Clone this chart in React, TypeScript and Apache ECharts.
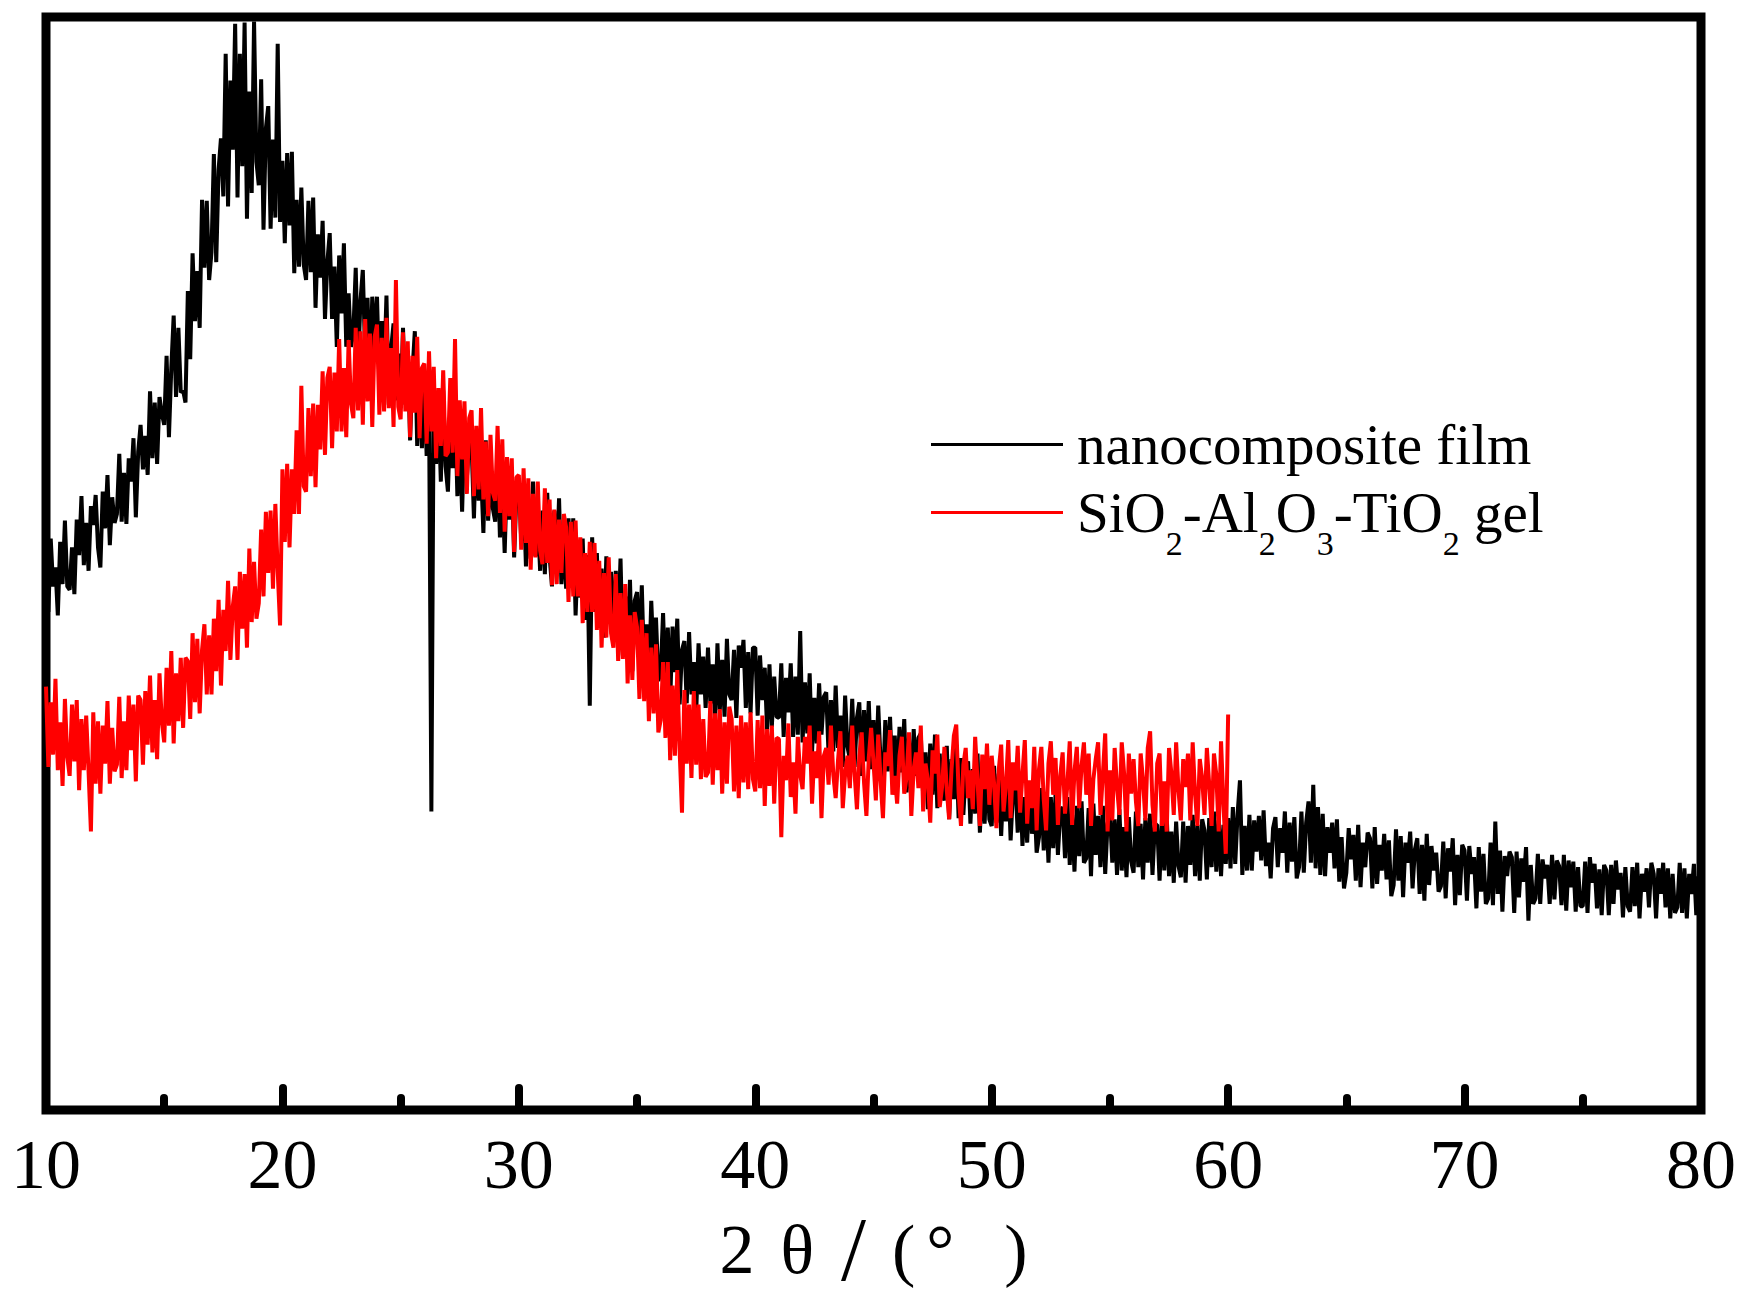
import React, { useEffect, useRef } from "react";
import * as echarts from "echarts";

// 2θ scan: start angle and step (degrees)
const angleStart = 10;
const angleStep = 0.1;

const filmName = "nanocomposite film";
const gelName = "SiO2-Al2O3-TiO2 gel";

// nanocomposite film, 10.0° … 80.0° (arbitrary intensity units)
const filmIntensity = [
  495,447,513,470,487,444,510,472,529,470,
  467,505,463,530,498,551,489,527,484,542,
  525,552,505,487,555,522,570,507,550,527,
  535,589,528,572,526,585,564,603,532,591,
  615,575,605,570,645,585,635,580,640,625,
  615,677,604,666,713,640,702,644,646,635,
  735,674,769,708,753,702,817,756,816,745,
  770,858,761,844,872,820,948,811,924,862,
  975,819,948,847,976,800,914,823,977,851,
  830,925,790,881,901,791,871,801,957,797,
  852,778,859,794,860,751,817,757,828,759,
  745,816,752,819,720,786,747,798,710,761,
  787,710,757,685,767,715,778,685,733,685,
  698,756,668,726,754,677,729,652,730,687,
  730,652,708,660,731,633,684,706,637,679,
  630,702,633,680,601,663,699,596,657,594,
  655,587,639,268,653,580,632,564,646,578,
  555,623,576,633,551,604,537,615,567,600,
  598,531,604,547,575,518,601,529,577,540,
  528,591,514,562,500,573,530,573,496,554,
  567,511,554,488,541,495,564,497,531,484,
  538,481,554,497,470,538,486,549,472,515,
  468,531,474,531,444,502,460,513,440,498,
  363,514,447,500,433,486,424,497,445,483,
  421,484,432,495,408,461,418,476,394,457,
  465,408,471,393,436,384,457,405,442,385,
  393,446,380,433,366,434,393,441,364,413,
  421,365,429,373,402,356,419,373,407,361,
  415,365,400,349,419,359,404,353,423,373,
  368,413,352,417,397,422,361,411,356,415,
  415,354,408,368,397,341,400,344,389,353,
  352,401,335,388,357,401,335,389,337,430,
  330,384,338,392,321,370,329,383,337,371,
  375,319,368,322,381,325,354,308,372,326,
  315,369,308,352,366,300,359,313,367,306,
  350,299,363,312,291,350,304,353,297,336,
  290,344,303,351,285,334,278,342,300,334,
  338,282,321,270,329,283,337,271,320,284,
  278,327,261,315,279,328,262,316,265,304,
  313,257,306,266,320,249,298,257,312,261,
  255,309,258,302,246,295,259,303,242,286,
  295,249,298,237,281,240,294,248,282,231,
  245,289,233,278,222,281,235,284,229,268,
  272,226,281,220,265,214,273,228,277,222,
  226,271,210,275,229,264,218,273,212,257,
  267,222,261,211,270,215,254,209,263,223,
  213,268,218,257,207,262,222,266,211,256,
  256,206,261,215,265,210,250,204,259,219,
  209,259,204,255,220,265,210,256,206,261,
  251,207,262,218,268,214,260,210,256,221,
  262,217,272,221,266,296,211,255,215,265,
  215,260,232,264,224,269,219,240,208,253,
  263,218,253,231,268,213,258,223,263,208,
  218,268,213,258,277,222,292,217,272,211,
  266,210,254,231,258,217,261,205,245,199,
  213,253,225,247,206,256,200,240,218,249,
  244,199,254,203,238,215,248,207,242,192,
  202,252,206,246,191,240,222,250,199,234,
  244,194,238,188,248,202,237,215,231,196,
  201,241,190,235,214,244,184,229,193,238,
  233,188,237,212,227,181,236,196,230,185,
  190,240,184,259,194,233,178,228,210,232,
  227,177,232,191,226,205,236,170,220,185,
  190,230,185,225,208,220,185,229,189,224,
  219,184,229,179,224,200,223,178,218,183,
  183,223,177,227,204,221,181,216,175,220,
  215,175,220,185,224,198,213,173,218,183,
  178,218,183,222,172,212,196,217,182,222,
  212,172,217,194,222,182,217,172,212,177,
  182,222,177,217,172,212,194,221,175,210,
  200,
];

// SiO2-Al2O3-TiO2 gel, 10.0° … 60.0°
const gelIntensity = [
  380,308,366,319,387,305,348,291,369,317,
  300,364,313,368,287,351,305,354,304,250,
  357,293,349,284,345,311,367,293,343,304,
  310,371,298,349,305,372,323,364,295,372,
  368,310,376,328,390,321,368,315,392,348,
  330,397,345,412,329,392,349,406,343,406,
  403,351,428,366,423,356,413,436,373,426,
  373,441,394,458,381,449,412,475,404,452,
  470,404,483,432,481,415,504,438,492,441,
  455,521,461,537,482,538,468,544,484,435,
  575,510,580,505,575,535,610,535,650,560,
  555,630,569,634,559,633,593,663,588,657,
  667,594,662,609,692,609,666,604,691,634,
  621,702,628,699,615,710,636,697,613,694,
  705,624,693,627,711,630,684,613,745,631,
  620,698,627,690,604,677,626,694,603,666,
  670,598,681,609,667,585,648,596,664,587,
  590,657,590,692,569,637,584,636,553,621,
  628,551,614,557,630,548,600,533,606,554,
  547,614,536,602,519,586,533,585,501,568,
  570,503,576,509,567,485,553,496,564,502,
  490,558,491,548,471,539,472,530,482,535,
  523,456,528,461,529,461,514,437,500,447,
  510,447,509,431,493,415,482,424,496,428,
  415,481,403,464,405,472,383,444,386,447,
  433,369,440,367,428,349,415,356,418,339,
  350,402,334,402,314,381,318,395,323,267,
  377,311,364,298,376,310,364,297,351,299,
  303,367,292,356,305,360,284,348,293,362,
  351,286,345,280,354,294,348,288,357,297,
  286,350,289,354,273,342,291,345,275,334,
  333,245,318,296,347,281,312,266,335,301,
  288,335,311,345,275,322,298,340,262,318,
  325,292,345,301,280,314,340,271,302,318,
  289,345,302,270,318,339,294,264,316,343,
  312,278,337,296,262,321,309,341,283,300,
  275,318,335,284,299,339,264,306,321,289,
  345,268,311,296,258,323,302,337,272,290,
  326,287,261,306,336,346,285,255,310,325,
  280,305,270,335,295,255,319,288,329,274,
  318,293,253,306,328,268,291,332,262,312,
  287,327,267,301,332,257,296,271,326,251,
  306,326,279,251,311,331,283,316,256,300,
  321,266,292,331,256,304,326,271,309,330,
  283,320,255,297,315,330,265,301,338,250,
  305,260,325,290,265,330,302,250,320,284,
  315,277,255,320,296,260,325,340,274,250,
  311,320,255,295,250,325,302,265,330,287,
  260,315,290,320,260,330,284,255,315,298,
  265,325,292,255,320,301,250,331,275,230,
  355,
];

const xMin = 10;
const xMax = 80;
const xInterval = 10;
const yMin = 0;
const yMax = 981;

const FONT = '"Liberation Serif", "Times New Roman", serif';

function toPairs(values: number[]): [number, number][] {
  return values.map((v, i) => [Math.round((angleStart + i * angleStep) * 100) / 100, v]);
}

export default function App() {
  const ref = useRef<HTMLDivElement>(null);

  useEffect(() => {
    document.body.style.margin = "0";
    if (!ref.current) return;
    const chart = echarts.init(ref.current, undefined, { renderer: "svg" });

    const tok = (size: number, padLeft: number) => ({
      fontSize: size,
      lineHeight: 70,
      fontFamily: FONT,
      color: "#000",
      padding: [0, 0, 0, padLeft],
    });

    chart.setOption({
      animation: false,
      backgroundColor: "#ffffff",
      grid: {
        left: 46,
        right: 49,
        top: 17,
        bottom: 186,
        show: true,
        borderColor: "#000",
        borderWidth: 9,
        backgroundColor: "transparent",
      },
      xAxis: {
        type: "value",
        min: xMin,
        max: xMax,
        interval: xInterval,
        axisLine: { show: false },
        splitLine: { show: false },
        axisTick: {
          show: true,
          inside: true,
          length: 22,
          lineStyle: { color: "#000", width: 8, cap: "round" },
        },
        minorTick: {
          show: true,
          splitNumber: 2,
          length: 12,
          lineStyle: { color: "#000", width: 8, cap: "round" },
        },
        axisLabel: {
          margin: 19,
          fontSize: 70,
          lineHeight: 70,
          fontFamily: FONT,
          color: "#000",
        },
        name: "{n|2}{t|θ}{s|/}{p|(}{d|°}{q|)}",
        nameLocation: "middle",
        nameGap: 103,
        nameTextStyle: {
          fontSize: 70,
          lineHeight: 70,
          fontFamily: FONT,
          color: "#000",
          rich: {
            n: tok(70, 0),
            t: tok(70, 26),
            s: tok(90, 27),
            p: tok(70, 26),
            d: tok(70, 11),
            q: tok(70, 50),
          },
        },
      },
      yAxis: {
        type: "value",
        min: yMin,
        max: yMax,
        show: false,
        splitLine: { show: false },
      },
      legend: [
        {
          data: [filmName],
          left: 931,
          top: 416,
          padding: 0,
          orient: "vertical",
          icon: "rect",
          itemWidth: 132,
          itemHeight: 3,
          selectedMode: false,
          textStyle: {
            fontSize: 57,
            lineHeight: 57,
            fontFamily: FONT,
            color: "#000",
            padding: [0, 0, 0, 9],
          },
        },
        {
          data: [gelName],
          left: 931,
          top: 484,
          padding: 0,
          orient: "vertical",
          icon: "rect",
          itemWidth: 132,
          itemHeight: 3,
          selectedMode: false,
          formatter: () =>
            "{a|SiO}{s|2}{a|-Al}{s|2}{a|O}{s|3}{a|-TiO}{s|2}{a| gel}",
          textStyle: {
            fontSize: 57,
            lineHeight: 57,
            fontFamily: FONT,
            color: "#000",
            padding: [0, 0, 0, 9],
            rich: {
              a: {
                fontSize: 57,
                lineHeight: 57,
                verticalAlign: "middle",
                fontFamily: FONT,
                color: "#000",
              },
              s: {
                fontSize: 34,
                lineHeight: 34,
                verticalAlign: "top",
                padding: [42, 0, 0, 0],
                fontFamily: FONT,
                color: "#000",
              },
            },
          },
        },
      ],
      series: [
        {
          name: filmName,
          type: "line",
          data: toPairs(filmIntensity),
          symbol: "none",
          showSymbol: false,
          color: "#000000",
          lineStyle: { width: 4, color: "#000000" },
          itemStyle: { color: "#000000" },
          clip: true,
          z: 2,
        },
        {
          name: gelName,
          type: "line",
          data: toPairs(gelIntensity),
          symbol: "none",
          showSymbol: false,
          color: "#ff0000",
          lineStyle: { width: 4, color: "#ff0000" },
          itemStyle: { color: "#ff0000" },
          clip: true,
          z: 3,
        },
      ],
    });

    return () => chart.dispose();
  }, []);

  return <div ref={ref} style={{ width: 1750, height: 1299 }} />;
}
